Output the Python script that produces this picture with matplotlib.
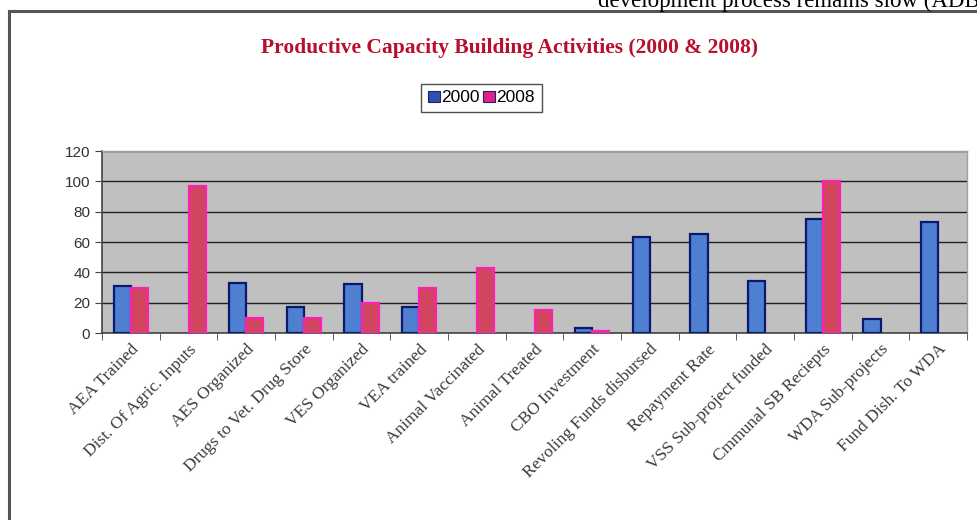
import numpy as np
import matplotlib.pyplot as plt
from matplotlib.lines import Line2D

categories = ['AEA Trained', 'Dist. Of Agric. Inputs', 'AES Organized',
              'Drugs to Vet. Drug Store', 'VES Organized', 'VEA trained',
              'Animal Vaccinated', 'Animal Treated', 'CBO Investment',
              'Revoling Funds disbursed', 'Repayment Rate',
              'VSS Sub-project funded', 'Cmmunal SB Reciepts',
              'WDA Sub-projects', 'Fund Dish. To WDA']
vals_2000 = [31, 0, 33, 17, 32, 17, 0, 0, 3, 63, 65, 34, 75, 9, 73]
vals_2008 = [30, 97, 10, 10, 20, 30, 43, 15, 1, 0, 0, 0, 100, 0, 0]
series_names = ['2000', '2008']

fig = plt.figure(figsize=(9.77, 5.20), dpi=100)
ax = fig.add_axes([0.1044, 0.3596, 0.8854, 0.35])

x = np.arange(len(categories))
w = 0.3
b1 = ax.bar(x - w / 2, vals_2000, w, color='#4F7FD0', edgecolor='#0A1870',
            linewidth=1.6, label=series_names[0], zorder=3)
b2 = ax.bar(x + w / 2, vals_2008, w, color='#D2455E', edgecolor='#FF1FB4',
            linewidth=1.6, label=series_names[1], zorder=3)
# empty bars draw nothing
for bars in (b1, b2):
    for r in bars:
        if r.get_height() == 0:
            r.set_linewidth(0)
            r.set_visible(False)

ax.set_facecolor('#C0C0C0')
ax.set_xlim(-0.5, len(categories) - 0.5)
ax.set_ylim(0, 120)
ax.set_yticks(range(0, 121, 20))
ax.yaxis.grid(True, color='#202020', linewidth=1.0, zorder=1)
ax.set_axisbelow(True)

ax.set_xticks(x)
ax.set_xticklabels(categories, rotation=45, ha='right', rotation_mode='anchor',
                   fontfamily='Liberation Serif', fontsize=12.5, color='#3a3a3a')
ax.tick_params(axis='x', length=0, pad=6)
ax.set_xticks(np.arange(-0.5, len(categories), 1), minor=True)
ax.tick_params(axis='x', which='minor', length=5, color='#444444')
ax.tick_params(axis='y', length=5, color='#444444', labelsize=11,
               labelcolor='#333333')
for lab in ax.get_yticklabels():
    lab.set_fontfamily('Liberation Sans')

for s in ['left', 'bottom']:
    ax.spines[s].set_color('#444444')
    ax.spines[s].set_linewidth(1.2)
for s in ['top', 'right']:
    ax.spines[s].set_color('#A0A0A0')
    ax.spines[s].set_linewidth(1.0)

fig.text(0.522, 1 - 48 / 520, 'Productive Capacity Building Activities (2000 & 2008)',
         ha='center', va='center', fontfamily='Liberation Serif',
         fontweight='bold', fontsize=15.5, color='#B8102C')

leg = fig.legend(handles=[b1, b2], loc='center', bbox_to_anchor=(0.493, 1 - 98 / 520),
                 ncol=2, frameon=True, fancybox=False, edgecolor='#222222',
                 handlelength=0.65, handleheight=0.65, handletextpad=0.1,
                 columnspacing=0.2, borderpad=0.4, borderaxespad=0,
                 prop={'family': 'Liberation Sans', 'size': 12.5})
leg.get_frame().set_linewidth(1.0)
for h, c in zip(leg.legend_handles, ['#3050B0', '#E0208C']):
    h.set_facecolor(c)
    h.set_edgecolor('#222266')
    h.set_linewidth(0.8)
    h.set_visible(True)

# chart outer border (clipped screenshot)
fig.add_artist(Line2D([8.5 / 977, 8.5 / 977], [0, 1 - 10.5 / 520],
                      transform=fig.transFigure, color='#555555', linewidth=2.2))
fig.add_artist(Line2D([8.5 / 977, 1], [1 - 10.5 / 520, 1 - 10.5 / 520],
                      transform=fig.transFigure, color='#555555', linewidth=2.2))

fig.text(598 / 977, 1 - 7 / 520, 'development process remains slow (ADB',
         ha='left', va='baseline', fontfamily='Liberation Serif', fontsize=16.5,
         color='black')

fig.savefig('out.png', dpi=100)
